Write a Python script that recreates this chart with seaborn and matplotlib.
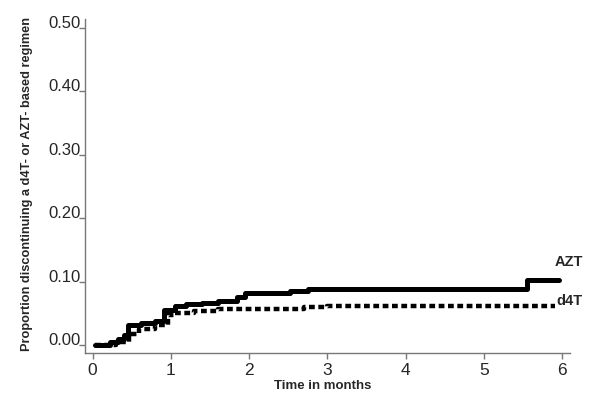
import matplotlib
matplotlib.use("Agg")
import matplotlib.pyplot as plt
import seaborn as sns
import pandas as pd

# step points (time in months, cumulative proportion)
azt_time = [0.03, 0.22, 0.33, 0.40, 0.45, 0.62, 0.80, 0.91, 1.05, 1.20, 1.40,
            1.60, 1.85, 1.95, 2.52, 2.75, 5.55, 5.96]
azt_prop = [0.000, 0.005, 0.010, 0.015, 0.031, 0.034, 0.038, 0.055, 0.062, 0.064,
            0.066, 0.069, 0.076, 0.082, 0.085, 0.088, 0.102, 0.102]

d4t_time = [0.03, 0.30, 0.47, 0.60, 0.80, 0.97, 1.05, 1.30, 1.60, 2.70, 3.00, 5.91]
d4t_prop = [0.000, 0.004, 0.018, 0.026, 0.032, 0.047, 0.050, 0.054, 0.057, 0.060,
            0.062, 0.062]

y_ticks = [0.0, 0.1, 0.2, 0.3, 0.4, 0.5]
x_ticks = [0, 1, 2, 3, 4, 5, 6]

sns.set_style("white")
plt.rcParams['font.family'] = ['Liberation Sans', 'DejaVu Sans']

df_azt = pd.DataFrame({'time': azt_time, 'prop': azt_prop})
df_d4t = pd.DataFrame({'time': d4t_time, 'prop': d4t_prop})

fig = plt.figure(figsize=(6, 4.04), dpi=100)
ax = fig.add_axes([85 / 600, 51 / 404, 485 / 600, 334 / 404])

sns.lineplot(data=df_azt, x='time', y='prop', ax=ax, color='black', lw=3.6,
             drawstyle='steps-post', estimator=None, sort=False)
sns.lineplot(data=df_d4t, x='time', y='prop', ax=ax, color='black', lw=3.2,
             drawstyle='steps-post', estimator=None, sort=False,
             dashes=False, linestyle=(0, (1.3, 0.8)))

ax.text(5.91, 0.131, 'AZT', fontsize=10.5, fontweight='bold', va='center', ha='left')
ax.text(5.92, 0.069, 'd4T', fontsize=10.5, fontweight='bold', va='center', ha='left')

ax.set_xlim(-0.096, 6.10)
ax.set_ylim(-0.0126, 0.514)
ax.set_xticks(x_ticks)
ax.set_yticks(y_ticks)
ax.set_yticklabels([f'{v:.2f}' for v in y_ticks])
for lab in ax.get_yticklabels():
    lab.set_va('baseline')

for side in ['top', 'right']:
    ax.spines[side].set_visible(False)
for side in ['left', 'bottom']:
    ax.spines[side].set_color('#777777')
    ax.spines[side].set_linewidth(1.0)

ax.tick_params(axis='y', direction='out', length=4, width=1, color='#777777',
               pad=-1, labelsize=12, left=True)
ax.tick_params(axis='x', direction='out', length=4, width=1, color='#777777',
               pad=3.5, labelsize=12.5, bottom=True)

ax.set_xlabel('Time in months', fontsize=9.5, fontweight='bold')
ax.set_ylabel('Proportion discontinuing a d4T- or AZT- based regimen',
              fontsize=9.2, fontweight='bold')
ax.xaxis.set_label_coords(0.491, -0.082)
ax.yaxis.set_label_coords(-0.107, 0.507)

fig.savefig('out.png', dpi=100)
